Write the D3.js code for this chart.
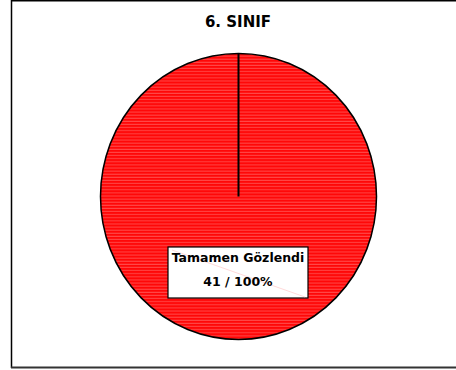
<!DOCTYPE html>
<html>
<head>
<meta charset="utf-8">
<script src="https://cdn.jsdelivr.net/npm/d3@7"></script>
<style>
  html, body { margin: 0; padding: 0; background: #fff; }
  svg { display: block; }
</style>
</head>
<body>
<svg id="chart" width="456" height="370"></svg>
<script>
// Pie data: one response category for grade 6
const categories = ["Tamamen Gözlendi"];
const counts = [41];
const title = "6. SINIF";

const W = 456, H = 370;
const svg = d3.select("#chart");
const font = "'DejaVu Sans', Verdana, sans-serif";

// Chart frame
svg.append("line").attr("x1", 11.5).attr("x2", 11.5).attr("y1", 0).attr("y2", 368)
  .attr("stroke", "#000").attr("stroke-width", 1.5);
svg.append("line").attr("x1", 11).attr("x2", W).attr("y1", 0.5).attr("y2", 0.5)
  .attr("stroke", "#000").attr("stroke-width", 2);
svg.append("line").attr("x1", 11).attr("x2", W).attr("y1", 367.5).attr("y2", 367.5)
  .attr("stroke", "#333").attr("stroke-width", 2);

// Striped red fill
const defs = svg.append("defs");
const pat = defs.append("pattern").attr("id", "stripes")
  .attr("patternUnits", "userSpaceOnUse").attr("width", 8).attr("height", 3);
pat.append("rect").attr("width", 8).attr("height", 3).attr("fill", "#ff0808");
pat.append("rect").attr("y", 2).attr("width", 8).attr("height", 1).attr("fill", "#ff4848");

// Title
svg.append("text").attr("x", 238).attr("y", 27).attr("text-anchor", "middle")
  .attr("font-family", font).attr("font-weight", "bold").attr("font-size", 15)
  .text(title);

// Pie (slightly taller than wide)
const cx = 238.5, cy = 196.5, rx = 138, ry = 143;
const total = d3.sum(counts);
const pie = d3.pie().sort(null).value(d => d)(counts);
const arc = d3.arc().innerRadius(0).outerRadius(rx);
const g = svg.append("g").attr("transform", `translate(${cx},${cy}) scale(1,${ry / rx})`);
g.selectAll("path").data(pie).join("path")
  .attr("d", arc)
  .attr("fill", "url(#stripes)")
  .attr("stroke", "#000")
  .attr("vector-effect", "non-scaling-stroke")
  .attr("stroke-width", 1.5);

// Slice boundary (start of the full slice)
pie.forEach(d => {
  const a = d.startAngle;
  svg.append("line").attr("x1", cx).attr("y1", cy)
    .attr("x2", cx + Math.sin(a) * rx).attr("y2", cy - Math.cos(a) * ry)
    .attr("stroke", "#000").attr("stroke-width", 2);
});

// Data label
const bx = 168, by = 247, bw = 140, bh = 51;
svg.append("rect").attr("x", bx).attr("y", by).attr("width", bw).attr("height", bh)
  .attr("fill", "#fff")
  .attr("stroke", "#000").attr("stroke-width", 1.2);
svg.append("line").attr("x1", bx + 4).attr("y1", by + 3).attr("x2", bx + bw - 3).attr("y2", by + bh - 1)
  .attr("stroke", "#ffc0c0").attr("stroke-width", 0.6);
pie.forEach((d, i) => {
  const pct = Math.round(d.value / total * 100);
  svg.append("text").attr("x", bx + bw / 2).attr("y", by + 15).attr("text-anchor", "middle")
    .attr("font-family", font).attr("font-weight", "bold").attr("font-size", 12.5)
    .text(categories[i]);
  svg.append("text").attr("x", bx + bw / 2).attr("y", by + 39).attr("text-anchor", "middle")
    .attr("font-family", font).attr("font-weight", "bold").attr("font-size", 12.5)
    .text(`${d.value} / ${pct}%`);
});
</script>
</body>
</html>
